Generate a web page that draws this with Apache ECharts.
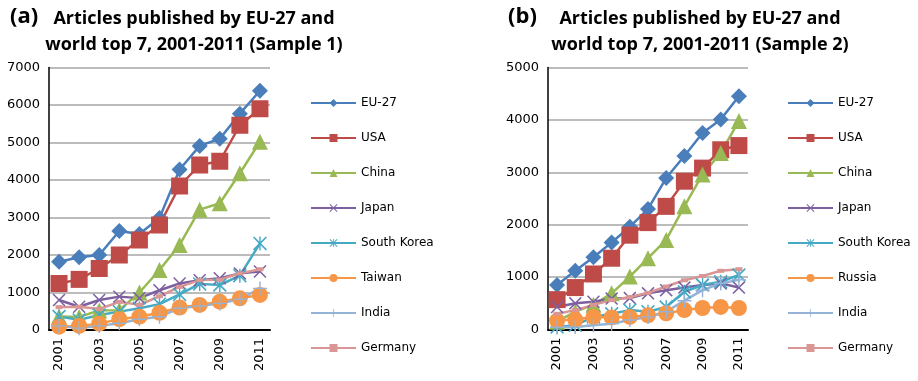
<!DOCTYPE html>
<html>
<head>
<meta charset="utf-8">
<script src="https://cdn.jsdelivr.net/npm/echarts@6/dist/echarts.min.js"></script>
<style>html,body{margin:0;padding:0;background:#fff}#c{width:918px;height:381px}</style>
</head>
<body>
<div id="c"></div>
<script>
var years = ['2001','2002','2003','2004','2005','2006','2007','2008','2009','2010','2011'];
var yTicks1 = [0,1000,2000,3000,4000,5000,6000,7000];
var yTicks2 = [0,1000,2000,3000,4000,5000];

// Sample 1
var eu1      = [1820,1940,2000,2640,2560,2990,4280,4910,5100,5770,6380];
var usa1     = [1240,1350,1640,2000,2400,2800,3840,4400,4500,5460,5900];
var china1   = [360,350,520,530,1000,1600,2270,3210,3380,4180,5020];
var japan1   = [800,620,800,890,850,1060,1240,1330,1380,1510,1560];
var korea1   = [360,270,400,490,580,690,950,1230,1200,1450,2310];
var taiwan1  = [90,110,170,290,355,460,600,670,755,845,935];
var india1   = [110,50,110,180,285,355,580,640,710,820,1110];
var germany1 = [610,620,560,750,670,900,1150,1330,1340,1510,1620];

// Sample 2
var eu2      = [850,1120,1380,1660,1960,2300,2890,3310,3750,4010,4450];
var usa2     = [570,800,1060,1360,1800,2040,2350,2830,3080,3430,3510];
var china2   = [150,340,470,690,1010,1360,1710,2350,2960,3370,3980];
var japan2   = [430,500,530,590,600,690,750,800,850,880,800];
var korea2   = [50,80,240,300,370,340,430,720,850,910,1040];
var russia2  = [170,190,240,230,240,270,310,370,410,430,410];
var india2   = [40,50,80,110,180,240,340,550,750,880,950];
var germany2 = [300,370,470,560,620,700,820,940,1020,1120,1150];

var names1 = ['EU-27','USA','China','Japan','South Korea','Taiwan','India','Germany'];
var names2 = ['EU-27','USA','China','Japan','South Korea','Russia','India','Germany'];

var X_PATH = 'path://M0,1L1,0L6,5L11,0L12,1L7,6L12,11L11,12L6,7L1,12L0,11L5,6Z';
var AST_PATH = 'path://M0,1L1,0L6,5L11,0L12,1L7,6L12,11L11,12L6,7L1,12L0,11L5,6Z M5.4,0L6.6,0L6.6,12L5.4,12Z';
var PLUS_PATH = 'path://M5.4,0L6.6,0L6.6,5.4L12,5.4L12,6.6L6.6,6.6L6.6,12L5.4,12L5.4,6.6L0,6.6L0,5.4L5.4,5.4Z';

var styles = [
  {color:'#4A7EBB', symbol:'diamond', size:16},
  {color:'#BE4B48', symbol:'rect', size:17},
  {color:'#98B954', symbol:'triangle', size:16},
  {color:'#7D60A0', symbol:X_PATH, size:13},
  {color:'#46AAC5', symbol:AST_PATH, size:14},
  {color:'#F79646', symbol:'circle', size:16},
  {color:'#95B3D7', symbol:PLUS_PATH, size:14},
  {color:'#D99694', symbol:'rect', size:[7,4]}
];

var data1 = [eu1,usa1,china1,japan1,korea1,taiwan1,india1,germany1];
var data2 = [eu2,usa2,china2,japan2,korea2,russia2,india2,germany2];

var FONT = 'DejaVu Sans';
var TFONT = '"Open Sans", sans-serif';

function mkSeries(names, data, idx) {
  return names.map(function(n, i) {
    var s = styles[i];
    return {
      name: n, type: 'line', xAxisIndex: idx, yAxisIndex: idx,
      data: data[i], symbol: s.symbol, symbolSize: s.size, showSymbol: true, showAllSymbol: true,
      lineStyle: {color: s.color, width: 2.5},
      itemStyle: {color: s.color},
      emphasis: {disabled: true}, animation: false
    };
  });
}

function mkX(idx) {
  return {
    type: 'category', gridIndex: idx, data: years, boundaryGap: true,
    axisLine: {lineStyle: {color: '#000', width: 2}},
    axisTick: {show: false},
    axisLabel: {rotate: 90, interval: 1, margin: 8, fontFamily: FONT, fontSize: 13, color: '#000'},
    splitLine: {show: false}
  };
}
function mkY(idx, ticks) {
  return {
    type: 'value', gridIndex: idx, min: ticks[0], max: ticks[ticks.length-1], interval: ticks[1]-ticks[0],
    axisLine: {show: true, lineStyle: {color: '#000', width: 1.5}},
    axisTick: {show: false},
    axisLabel: {margin: 9, fontFamily: FONT, fontSize: 13, color: '#000', formatter: function(v){ return String(v); }},
    splitLine: {show: true, lineStyle: {color: '#A6A6A6', width: 1.5}}
  };
}
function mkLegend(names, left) {
  return {
    orient: 'vertical', left: left, top: 92, itemWidth: 45, itemHeight: 10, itemGap: 23,
    data: names, selectedMode: false,
    textStyle: {fontFamily: FONT, fontSize: 12, color: '#000'}
  };
}

var chart = echarts.init(document.getElementById('c'), null, {renderer: 'canvas'});
chart.setOption({
  animation: false,
  backgroundColor: '#fff',
  title: [
    {text: '(a)', left: 5, top: 1, textStyle: {fontFamily: TFONT, fontSize: 22, fontWeight: 'bold', color: '#000'}},
    {text: 'Articles published by EU-27 and\nworld top 7, 2001-2011 (Sample 1)', left: 189, top: 1, textAlign: 'center',
     textStyle: {fontFamily: TFONT, fontSize: 18, fontWeight: 'bold', color: '#000', lineHeight: 26}},
    {text: '(b)', left: 503, top: 1, textStyle: {fontFamily: TFONT, fontSize: 22, fontWeight: 'bold', color: '#000'}},
    {text: 'Articles published by EU-27 and\nworld top 7, 2001-2011 (Sample 2)', left: 695, top: 1, textAlign: 'center',
     textStyle: {fontFamily: TFONT, fontSize: 18, fontWeight: 'bold', color: '#000', lineHeight: 26}}
  ],
  grid: [
    {left: 49, top: 67.5, width: 221, height: 262.5},
    {left: 548, top: 67.5, width: 200, height: 262}
  ],
  xAxis: [mkX(0), mkX(1)],
  yAxis: [mkY(0, yTicks1), mkY(1, yTicks2)],
  legend: [mkLegend(names1, 305), mkLegend(names2, 782)],
  series: mkSeries(names1, data1, 0).concat(mkSeries(names2, data2, 1))
});
</script>
</body>
</html>
